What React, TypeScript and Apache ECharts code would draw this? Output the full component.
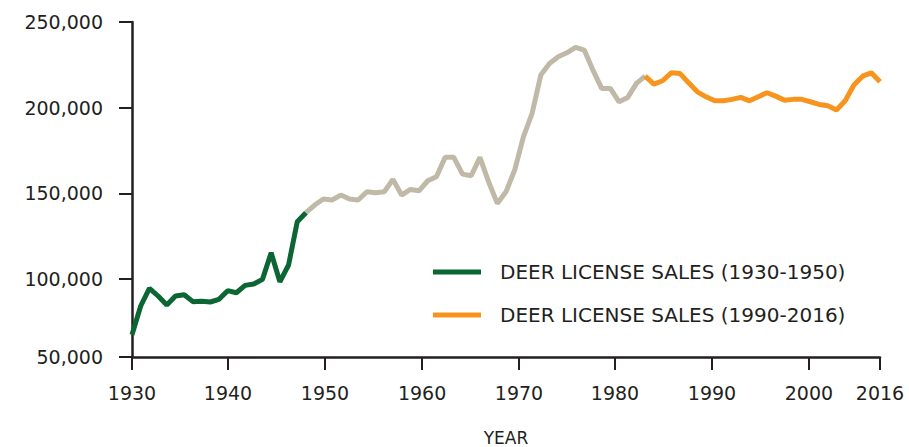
import React, { useEffect, useRef } from "react";
import * as echarts from "echarts";

// Deer license sales, one value per year
const firstYear = 1930;
const lastYear = 2016;
const greenStart = 1930;
const greenValues = [67500, 84250, 94600, 90100, 84800, 90100, 90850, 86800, 87000, 86600, 88150, 93200, 92000, 96300, 97100, 99800, 115300, 98400, 108200, 133400, 138700];
const beigeStart = 1950;
const beigeValues = [138700, 143200, 146700, 146100, 149000, 146700, 146100, 150900, 150350, 150900, 158150, 149000, 152300, 151500, 157350, 159700, 171000, 171000, 161250, 160250, 171000, 156750, 144150, 150900, 163600, 183000, 196650, 219000, 225800, 229700, 232000, 235150, 233600, 221900, 211250, 211250, 203450, 206000, 214150, 218400];
const orangeStart = 1989;
const orangeValues = [218400, 213750, 215700, 220350, 220000, 214500, 209250, 206350, 204000, 204000, 204850, 206000, 204000, 206350, 208700, 206750, 204400, 204850, 204850, 203450, 201900, 201100, 198600, 204000, 213200, 218400, 220350, 215100];

// Axis ticks as drawn in the reference
const xTickAt = [1930, 1941.04, 1952.19, 1963.35, 1974.49, 1985.53, 1996.68, 2007.83, 2016];
const xTickLabels = ["1930", "1940", "1950", "1960", "1970", "1980", "1990", "2000", "2016"];
const yTickAt = [54500, 100000, 150000, 200000, 250000];
const yTickLabels = ["50,000", "100,000", "150,000", "200,000", "250,000"];

const seriesNames = ["DEER LICENSE SALES (1930-1950)", "DEER LICENSE SALES (1990-2016)", "DEER LICENSE SALES"];

const toPairs = (start: number, vals: number[]) => vals.map((v, i) => [start + i, v]);

const nearestLabel = (ticks: number[], labels: string[], v: number) => {
  let best = 0;
  for (let i = 1; i < ticks.length; i++) {
    if (Math.abs(ticks[i] - v) < Math.abs(ticks[best] - v)) best = i;
  }
  return labels[best];
};

const FONT = "'DejaVu Sans', sans-serif";
const INK = "#231f20";

export default function App() {
  const ref = useRef<HTMLDivElement>(null);
  useEffect(() => {
    if (!ref.current) return;
    const chart = echarts.init(ref.current, undefined, { renderer: "svg" });
    chart.setOption({
      animation: false,
      backgroundColor: "#ffffff",
      grid: { left: 132, right: 29, top: 22, bottom: 90, containLabel: false, outerBoundsMode: "none" },
      legend: {
        orient: "vertical",
        left: 433,
        top: 261,
        padding: 0,
        itemWidth: 48,
        itemHeight: 5,
        itemGap: 21,
        icon: "rect",
        data: [seriesNames[0], seriesNames[1]],
        textStyle: { fontFamily: FONT, fontSize: 20, color: INK, padding: [0, 0, 0, 14], lineHeight: 22 },
      },
      xAxis: {
        type: "value",
        min: firstYear,
        max: lastYear,
        name: "YEAR",
        nameLocation: "middle",
        nameGap: 72,
        nameTextStyle: { fontFamily: FONT, fontSize: 17, color: INK, lineHeight: 18 },
        axisLine: { show: true, onZero: false, lineStyle: { color: INK, width: 2.5 } },
        axisTick: { show: true, length: 13, customValues: xTickAt, lineStyle: { color: INK, width: 2 } },
        axisLabel: {
          customValues: xTickAt,
          margin: 26,
          fontFamily: FONT,
          fontSize: 19,
          color: INK,
          formatter: (v: number) => nearestLabel(xTickAt, xTickLabels, v),
        },
        splitLine: { show: false },
      },
      yAxis: {
        type: "value",
        min: 54500,
        max: 250000,
        axisLine: { show: true, lineStyle: { color: INK, width: 2.5 } },
        axisTick: { show: true, length: 13, customValues: yTickAt, lineStyle: { color: INK, width: 2 } },
        axisLabel: {
          customValues: yTickAt,
          margin: 29,
          fontFamily: FONT,
          fontSize: 19,
          color: INK,
          formatter: (v: number) => nearestLabel(yTickAt, yTickLabels, v),
        },
        splitLine: { show: false },
      },
      series: [
        {
          name: seriesNames[2],
          type: "line",
          data: toPairs(beigeStart, beigeValues),
          showSymbol: false,
          symbol: "none",
          lineStyle: { color: "#c1b9a7", width: 5 },
          itemStyle: { color: "#c1b9a7" },
          z: 2,
        },
        {
          name: seriesNames[0],
          type: "line",
          data: toPairs(greenStart, greenValues),
          showSymbol: false,
          symbol: "none",
          lineStyle: { color: "#0b6634", width: 5 },
          itemStyle: { color: "#0b6634" },
          z: 3,
        },
        {
          name: seriesNames[1],
          type: "line",
          data: toPairs(orangeStart, orangeValues),
          showSymbol: false,
          symbol: "none",
          lineStyle: { color: "#f7941d", width: 5 },
          itemStyle: { color: "#f7941d" },
          z: 3,
        },
      ],
    });
    return () => chart.dispose();
  }, []);
  return <div ref={ref} style={{ position: "fixed", left: 0, top: 0, width: 909, height: 447 }} />;
}
